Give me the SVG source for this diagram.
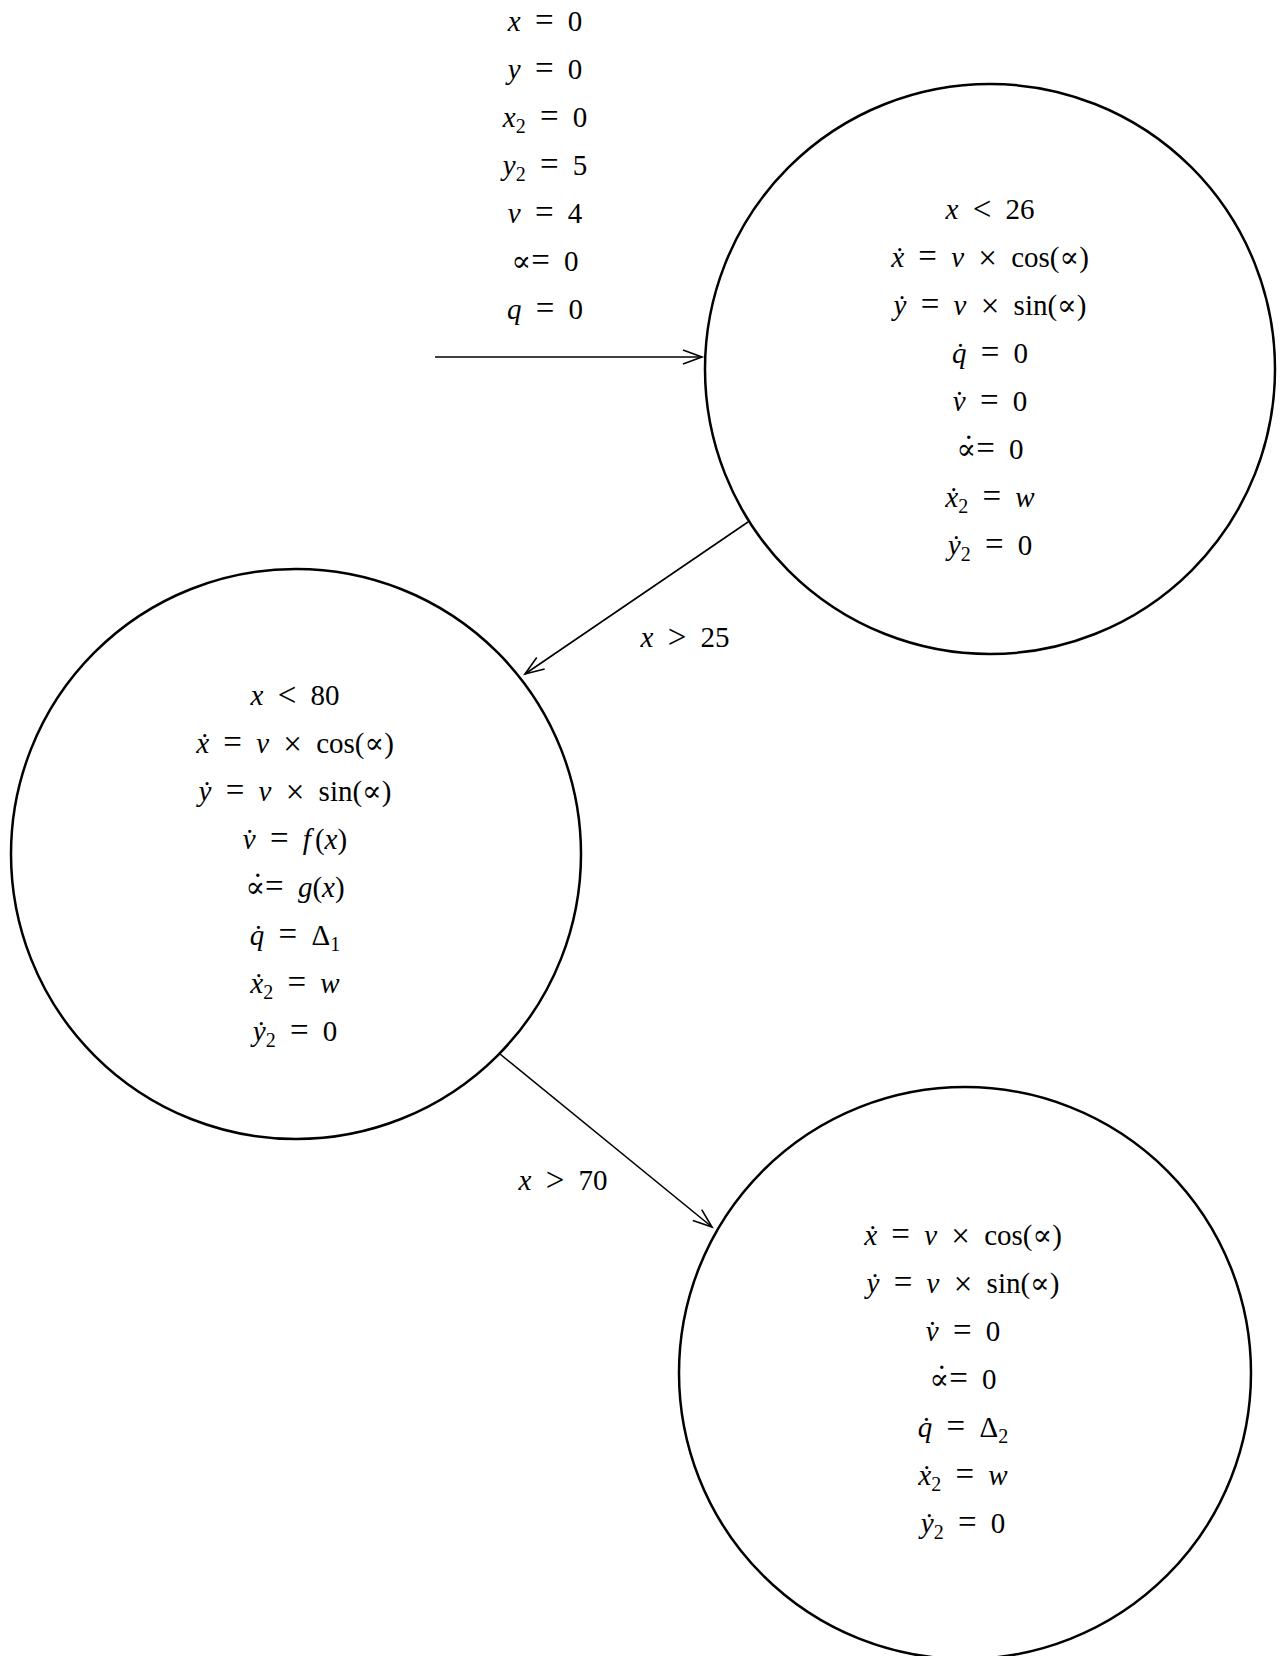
<svg xmlns="http://www.w3.org/2000/svg" width="1283" height="1656" viewBox="0 0 1283 1656">
<style>
.t{font-family:"Liberation Serif","DejaVu Serif",serif;font-size:29px;word-spacing:7px;text-anchor:middle;fill:#000}
.i{font-style:italic}
.o{font-size:33px}
.s{font-size:20px}
.node{fill:none;stroke:#000;stroke-width:2.5}
.edge{fill:none;stroke:#000;stroke-width:1.6}
</style>
<defs>
<marker id="arr" markerUnits="userSpaceOnUse" markerWidth="24" markerHeight="18" refX="20" refY="8" orient="auto">
<path d="M1,1 L20,8 L1,15" fill="none" stroke="#000" stroke-width="1.6"/>
</marker>
</defs>
<rect width="1283" height="1656" fill="#fff"/>

<g id="initial">
<text class="t" x="545" y="31"><tspan class="i">x</tspan> <tspan class="o">=</tspan> 0</text>
<text class="t" x="545" y="79"><tspan class="i">y</tspan> <tspan class="o">=</tspan> 0</text>
<text class="t" x="545" y="127"><tspan class="i">x</tspan><tspan class="s" dy="6">2</tspan><tspan dy="-6"> </tspan><tspan class="o">=</tspan> 0</text>
<text class="t" x="545" y="175"><tspan class="i">y</tspan><tspan class="s" dy="6">2</tspan><tspan dy="-6"> </tspan><tspan class="o">=</tspan> 5</text>
<text class="t" x="545" y="223"><tspan class="i">v</tspan> <tspan class="o">=</tspan> 4</text>
<text class="t" x="545" y="271">∝<tspan class="o">=</tspan> 0</text>
<text class="t" x="545" y="319"><tspan class="i">q</tspan> <tspan class="o">=</tspan> 0</text>
</g>

<g id="state1">
<circle class="node" cx="990" cy="369" r="285"/>
<text class="t" x="990" y="219"><tspan class="i">x</tspan> <tspan class="o" dy="1">&lt;</tspan><tspan dy="-1"> 26</tspan></text>
<text class="t" x="990" y="267"><tspan class="i">ẋ</tspan> <tspan class="o">=</tspan> <tspan class="i">v</tspan> <tspan class="o" dy="2">×</tspan><tspan dy="-2"> cos(∝)</tspan></text>
<text class="t" x="990" y="315"><tspan class="i">ẏ</tspan> <tspan class="o">=</tspan> <tspan class="i">v</tspan> <tspan class="o" dy="2">×</tspan><tspan dy="-2"> sin(∝)</tspan></text>
<text class="t" x="990" y="363"><tspan class="i">q&#x307;</tspan> <tspan class="o">=</tspan> 0</text>
<text class="t" x="990" y="411"><tspan class="i">v&#x307;</tspan> <tspan class="o">=</tspan> 0</text>
<text class="t" x="990" y="459">∝&#x307;<tspan class="o">=</tspan> 0</text>
<text class="t" x="990" y="507"><tspan class="i">ẋ</tspan><tspan class="s" dy="6">2</tspan><tspan dy="-6"> </tspan><tspan class="o">=</tspan> <tspan class="i">w</tspan></text>
<text class="t" x="990" y="555"><tspan class="i">ẏ</tspan><tspan class="s" dy="6">2</tspan><tspan dy="-6"> </tspan><tspan class="o">=</tspan> 0</text>
</g>

<g id="state2">
<circle class="node" cx="296" cy="854" r="285"/>
<text class="t" x="295" y="705"><tspan class="i">x</tspan> <tspan class="o" dy="1">&lt;</tspan><tspan dy="-1"> 80</tspan></text>
<text class="t" x="295" y="753"><tspan class="i">ẋ</tspan> <tspan class="o">=</tspan> <tspan class="i">v</tspan> <tspan class="o" dy="2">×</tspan><tspan dy="-2"> cos(∝)</tspan></text>
<text class="t" x="295" y="801"><tspan class="i">ẏ</tspan> <tspan class="o">=</tspan> <tspan class="i">v</tspan> <tspan class="o" dy="2">×</tspan><tspan dy="-2"> sin(∝)</tspan></text>
<text class="t" x="295" y="849"><tspan class="i">v&#x307;</tspan> <tspan class="o">=</tspan> <tspan class="i">f</tspan><tspan dx="4">(</tspan><tspan class="i">x</tspan>)</text>
<text class="t" x="295" y="897">∝&#x307;<tspan class="o">=</tspan> <tspan class="i">g</tspan>(<tspan class="i">x</tspan>)</text>
<text class="t" x="295" y="945"><tspan class="i">q&#x307;</tspan> <tspan class="o">=</tspan> Δ<tspan class="s" dy="6">1</tspan></text>
<text class="t" x="295" y="993"><tspan class="i">ẋ</tspan><tspan class="s" dy="6">2</tspan><tspan dy="-6"> </tspan><tspan class="o">=</tspan> <tspan class="i">w</tspan></text>
<text class="t" x="295" y="1041"><tspan class="i">ẏ</tspan><tspan class="s" dy="6">2</tspan><tspan dy="-6"> </tspan><tspan class="o">=</tspan> 0</text>
</g>

<g id="state3">
<circle class="node" cx="965" cy="1373" r="286"/>
<text class="t" x="963" y="1245"><tspan class="i">ẋ</tspan> <tspan class="o">=</tspan> <tspan class="i">v</tspan> <tspan class="o" dy="2">×</tspan><tspan dy="-2"> cos(∝)</tspan></text>
<text class="t" x="963" y="1293"><tspan class="i">ẏ</tspan> <tspan class="o">=</tspan> <tspan class="i">v</tspan> <tspan class="o" dy="2">×</tspan><tspan dy="-2"> sin(∝)</tspan></text>
<text class="t" x="963" y="1341"><tspan class="i">v&#x307;</tspan> <tspan class="o">=</tspan> 0</text>
<text class="t" x="963" y="1389">∝&#x307;<tspan class="o">=</tspan> 0</text>
<text class="t" x="963" y="1437"><tspan class="i">q&#x307;</tspan> <tspan class="o">=</tspan> Δ<tspan class="s" dy="6">2</tspan></text>
<text class="t" x="963" y="1485"><tspan class="i">ẋ</tspan><tspan class="s" dy="6">2</tspan><tspan dy="-6"> </tspan><tspan class="o">=</tspan> <tspan class="i">w</tspan></text>
<text class="t" x="963" y="1533"><tspan class="i">ẏ</tspan><tspan class="s" dy="6">2</tspan><tspan dy="-6"> </tspan><tspan class="o">=</tspan> 0</text>
</g>

<g id="connectors">
<line class="edge" x1="435" y1="357" x2="702" y2="357" marker-end="url(#arr)"/>
<line class="edge" x1="748" y1="522" x2="525" y2="674" marker-end="url(#arr)"/>
<line class="edge" x1="500" y1="1054" x2="712" y2="1227" marker-end="url(#arr)"/>
<text class="t" x="685" y="647"><tspan class="i">x</tspan> <tspan class="o" dy="1">&gt;</tspan><tspan dy="-1"> 25</tspan></text>
<text class="t" x="563" y="1190"><tspan class="i">x</tspan> <tspan class="o" dy="1">&gt;</tspan><tspan dy="-1"> 70</tspan></text>
</g>
</svg>
